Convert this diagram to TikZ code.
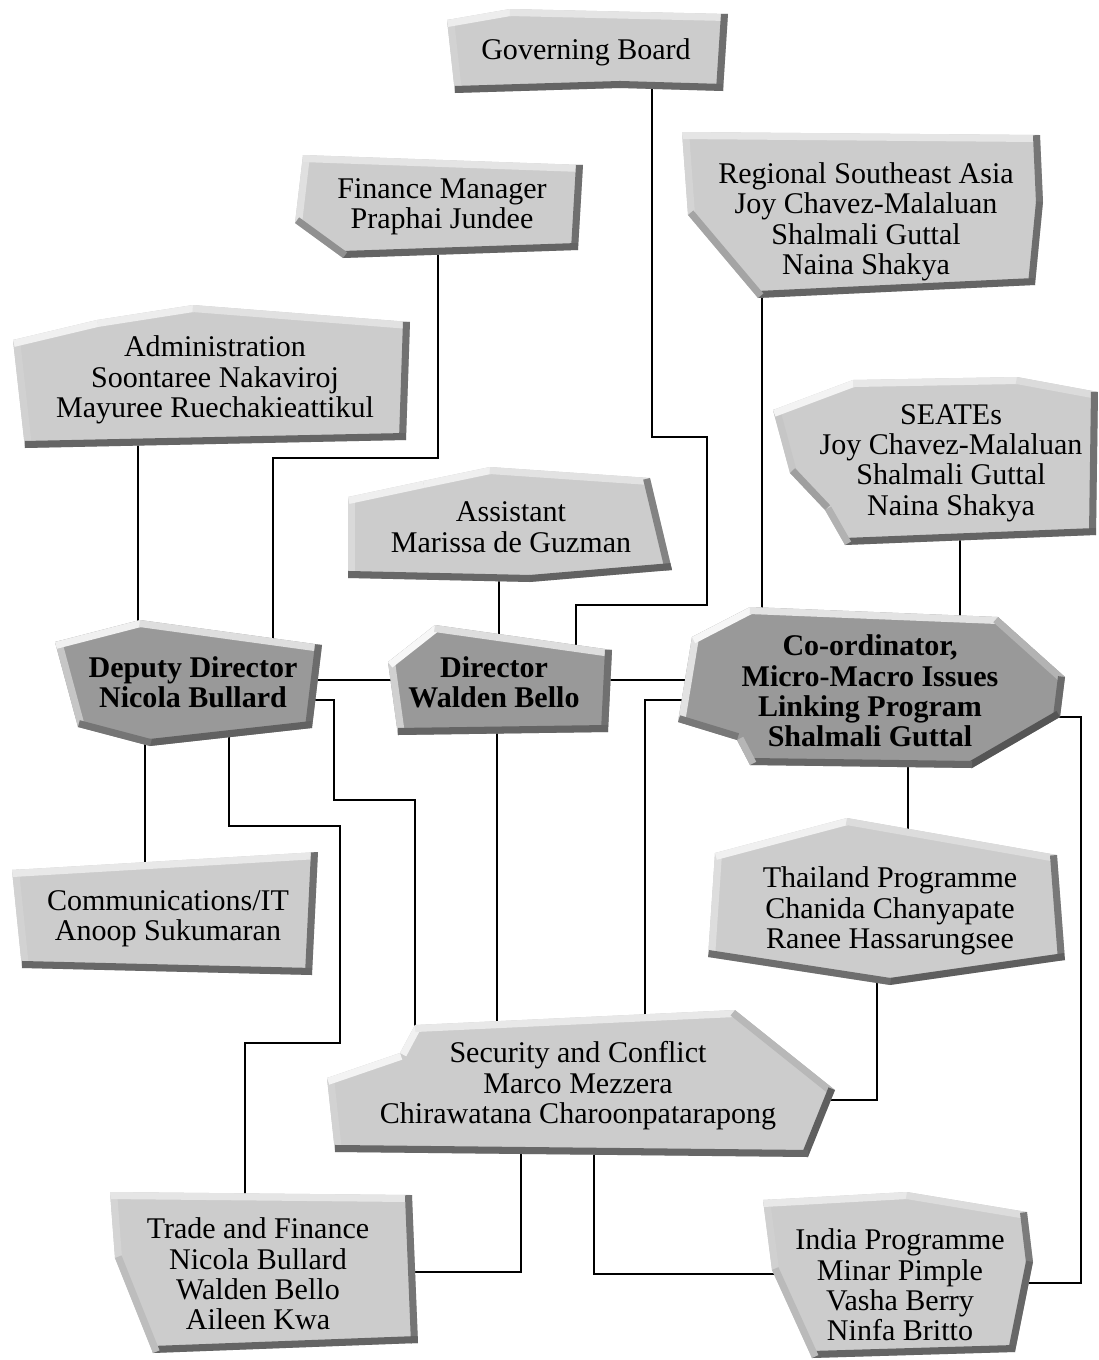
\documentclass[tikz,border=0pt]{standalone}
\usepackage{fontspec}
\setmainfont{Liberation Serif}
\usepackage{xcolor}
\usepackage{tikz}
\usetikzlibrary{backgrounds}
\definecolor{lightface}{RGB}{204, 204, 204}
\definecolor{darkface}{RGB}{153, 153, 153}

% bevelled panel: [face]{name}{text centre}{corners x/y, clockwise}{text}
\newcommand{\panel}[5][lightface]{%
  \foreach \vx/\vy [count=\vi] in {#4} {\ifnum\vi=1 \xdef\firstx{\vx}\xdef\firsty{\vy}\fi \xdef\lastx{\vx}\xdef\lasty{\vy}}%
  \begin{scope}
    \clip (\firstx,\firsty) \foreach \vx/\vy in {#4} { -- (\vx,\vy) } -- cycle;
    \fill[#1] (0,0) rectangle (1099,1360);
    \foreach \vx/\vy [remember=\vx as \px (initially \lastx), remember=\vy as \py (initially \lasty)] in {#4} {
      \pgfmathsetmacro\elen{veclen(\vx-\px,\vy-\py)}
      \pgfmathsetmacro\lev{max(0,min(100,65-20*(\vy-\py)/\elen+25*(\vx-\px)/\elen))}
      \draw[line width=8pt, white!\lev!black] (\px,\py) -- (\vx,\vy);
    }
  \end{scope}
  \node[boxtext] (#2) at (#3) {#5};
}

\begin{document}
\begin{tikzpicture}[x=0.02cm, y=-0.02cm,
    boxtext/.style={align=center, inner sep=0pt, font=\fontsize{17.1}{17.3}\selectfont},
    link/.style={line width=1.1pt, black}]
    \useasboundingbox (0,0) rectangle (1099,1360);

    % Top row
    \panel{gov}{586,52}{447/20, 510/9, 728/14, 723/91, 620/88, 455/93}{Governing Board};
    \panel{finance}{442,207}{303/155, 583/165, 578/250, 343/258, 295/223}{Finance Manager\\Praphai Jundee};
    \panel{regional}{866,222}{682/132, 1040/135, 1043/202, 1035/285, 758/298, 688/215}{Regional Southeast Asia\\Joy Chavez-Malaluan\\Shalmali Guttal\\Naina Shakya};
    \panel{admin}{215,380}{13/340, 97/320, 193/305, 410/322, 406/440, 25/448}{Administration\\Soontaree Nakaviroj\\Mayuree Ruechakieattikul};
    \panel{seates}{951,463}{773/410, 853/380, 1017/377, 1098/392, 1096/535, 845/545, 825/510, 790/473}{SEATEs\\Joy Chavez-Malaluan\\Shalmali Guttal\\Naina Shakya};
    \panel{assistant}{511,527}{348/497, 423/481, 490/467, 650/478, 672/570, 530/582, 348/578}{Assistant\\Marissa de Guzman};

    % Directors
    \panel[darkface]{deputy}{193,682}{55/642, 140/620, 322/645, 312/728, 150/746, 78/727}{\textbf{Deputy Director}\\\textbf{Nicola Bullard}};
    \panel[darkface]{director}{494,682}{388/662, 435/625, 612/650, 608/732, 398/735}{\textbf{Director}\\\textbf{Walden Bello}};
    \panel[darkface]{coord}{870,691}{692/637, 750/607, 998/617, 1065/677, 1060/717, 972/768, 750/765, 737/740, 678/722}{\textbf{Co-ordinator,}\\\textbf{Micro-Macro Issues}\\\textbf{Linking Program}\\\textbf{Shalmali Guttal}};

    % Programmes
    \panel{comms}{168,919}{12/870, 318/852, 312/975, 22/968}{Communications/IT\\Anoop Sukumaran};
    \panel{thailand}{890,911}{715/853, 847/818, 1057/855, 1065/960, 890/985, 708/957}{Thailand Programme\\Chanida Chanyapate\\Ranee Hassarungsee};
    \panel{security}{578,1086}{327/1078, 400/1053, 415/1025, 735/1010, 835/1090, 808/1157, 335/1152}{Security and Conflict\\Marco Mezzera\\Chirawatana Charoonpatarapong};
    \panel{trade}{258,1274}{110/1192, 412/1195, 418/1343, 153/1353, 115/1258}{Trade and Finance\\Nicola Bullard\\Walden Bello\\Aileen Kwa};
    \panel{india}{900,1285}{763/1200, 907/1192, 1027/1212, 1033/1262, 1015/1352, 812/1358, 772/1270}{India Programme\\Minar Pimple\\Vasha Berry\\Ninfa Britto};

    % Connectors (behind the panels)
    \begin{pgfonlayer}{background}
        \draw[link] (gov -| 652,0) -- (652,437) -- (707,437) -- (707,605) -- (576,605) -- (director -| 576,0);
        \draw[link] (finance -| 438,0) -- (438,458) -- (273,458) -- (deputy -| 273,0);
        \draw[link] (admin -| 138,0) -- (deputy -| 138,0);
        \draw[link] (regional -| 762,0) -- (coord -| 762,0);
        \draw[link] (seates -| 960,0) -- (coord -| 960,0);
        \draw[link] (assistant -| 499,0) -- (director -| 499,0);
        \draw[link] (deputy |- 0,680) -- (director |- 0,680);
        \draw[link] (director |- 0,680) -- (coord |- 0,680);
        \draw[link] (deputy -| 145,0) -- (comms -| 145,0);
        \draw[link] (deputy -| 229,0) -- (229,826) -- (340,826) -- (340,1043) -- (245,1043) -- (trade -| 245,0);
        \draw[link] (deputy |- 0,700) -- (334,700) -- (334,800) -- (415,800) -- (security -| 415,0);
        \draw[link] (director -| 497,0) -- (security -| 497,0);
        \draw[link] (coord |- 0,700) -- (645,700) -- (security -| 645,0);
        \draw[link] (coord -| 908,0) -- (thailand -| 908,0);
        \draw[link] (thailand -| 877,0) -- (877,1100) -- (security |- 0,1100);
        \draw[link] (security -| 521,0) -- (521,1272) -- (trade |- 0,1272);
        \draw[link] (security -| 594,0) -- (594,1274) -- (india |- 0,1274);
        \draw[link] (coord |- 0,717) -- (1081,717) -- (1081,1283) -- (india |- 0,1283);
    \end{pgfonlayer}
\end{tikzpicture}
\end{document}
